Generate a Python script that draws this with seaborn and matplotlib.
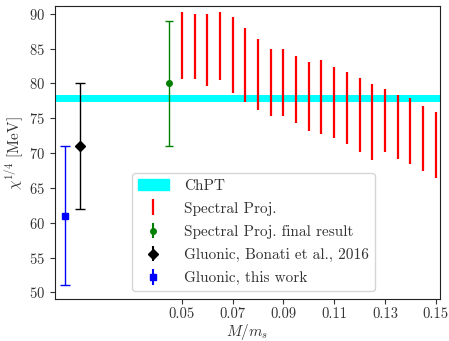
import numpy as np
import matplotlib
matplotlib.use("Agg")
import matplotlib.pyplot as plt
import seaborn as sns
from matplotlib.patches import Patch
from matplotlib.lines import Line2D

# ---- data ----
spec_x = [0.05, 0.055, 0.06, 0.065, 0.07, 0.075, 0.08, 0.085, 0.09, 0.095, 0.10,
          0.105, 0.11, 0.115, 0.12, 0.125, 0.13, 0.135, 0.14, 0.145, 0.15]
spec_hi = [90.3, 89.9, 89.9, 90.3, 89.5, 87.9, 86.4, 85.0, 85.0, 84.0, 83.1,
           83.4, 82.3, 81.7, 80.8, 79.9, 79.2, 78.4, 77.9, 76.8, 75.9]
spec_lo = [80.6, 80.6, 79.6, 80.5, 78.7, 77.3, 76.2, 75.3, 75.3, 74.3, 73.2,
           72.8, 72.1, 71.3, 70.1, 69.0, 70.1, 69.1, 68.4, 67.4, 66.4]
chpt_lo, chpt_hi = 77.3, 78.3
final_x, final_y, final_err = 0.045, 80.0, 9.0
bonati_x, bonati_y, bonati_err = 0.010, 71.0, 9.0
this_x, this_y, this_err = 0.004, 61.0, 10.0
xticks = [0.05, 0.07, 0.09, 0.11, 0.13, 0.15]
yticks = [50, 55, 60, 65, 70, 75, 80, 85, 90]

sns.set_style("ticks")
plt.rcParams["font.family"] = ["cmr10", "DejaVu Serif"]
plt.rcParams["mathtext.fontset"] = "cm"
plt.rcParams["axes.formatter.use_mathtext"] = True

fig = plt.figure(figsize=(4.49, 3.41), dpi=100)
ax = fig.add_axes([0.1225, 0.122, 0.8575, 0.860])

ax.axhspan(chpt_lo, chpt_hi, color="cyan", lw=0, zorder=1)
ax.vlines(spec_x, spec_lo, spec_hi, colors="red", lw=1.6, zorder=2)
ax.errorbar(final_x, final_y, yerr=final_err, fmt="o", color="green", ms=4,
            capsize=3.2, elinewidth=1.0, capthick=1.0, zorder=3)
ax.errorbar(bonati_x, bonati_y, yerr=bonati_err, fmt="D", color="black", ms=5,
            capsize=3.5, elinewidth=1.0, capthick=1.0, zorder=3)
ax.errorbar(this_x, this_y, yerr=this_err, fmt="s", color="blue", ms=5,
            capsize=3.5, elinewidth=1.0, capthick=1.0, zorder=3)

ax.set_xlim(0.0, 0.1517)
ax.set_ylim(49.0, 91.1)
ax.set_xticks(xticks)
ax.set_xticklabels([f"{v:.2f}" for v in xticks])
ax.set_yticks(yticks)
ax.tick_params(labelsize=10.5, colors="#333333", length=3.5)
ax.tick_params(axis="x", pad=2.5)
for s in ax.spines.values():
    s.set_color("#222222")
ax.set_xlabel(r"$M/m_s$", fontsize=11, color="#333333")
ax.xaxis.set_label_coords(0.5, -0.076)
ax.set_ylabel(r"$\chi^{1/4}$ [MeV]", fontsize=11, color="#333333", labelpad=2)

eb_final = ax.errorbar([], [], yerr=[], fmt="o", color="green", ms=4, capsize=3.2)
eb_bon = ax.errorbar([], [], yerr=[], fmt="D", color="black", ms=5, capsize=3.5)
eb_this = ax.errorbar([], [], yerr=[], fmt="s", color="blue", ms=5, capsize=3.5)
handles = [Patch(color="cyan"),
           Line2D([], [], color="red", marker="|", ls="none", ms=12, mew=1.6),
           eb_final, eb_bon, eb_this]
labels = ["ChPT", "Spectral Proj.", "Spectral Proj. final result",
          "Gluonic, Bonati et al., 2016", "Gluonic, this work"]
leg = ax.legend(handles, labels, loc="lower left", bbox_to_anchor=(0.2, 0.027),
                borderaxespad=0, fontsize=11, frameon=True, fancybox=True,
                labelspacing=0.6, handlelength=2.0, handletextpad=1.0)
leg.get_frame().set_edgecolor("#cccccc")
for t in leg.get_texts():
    t.set_color("#333333")

fig.savefig("out.png", dpi=100)
